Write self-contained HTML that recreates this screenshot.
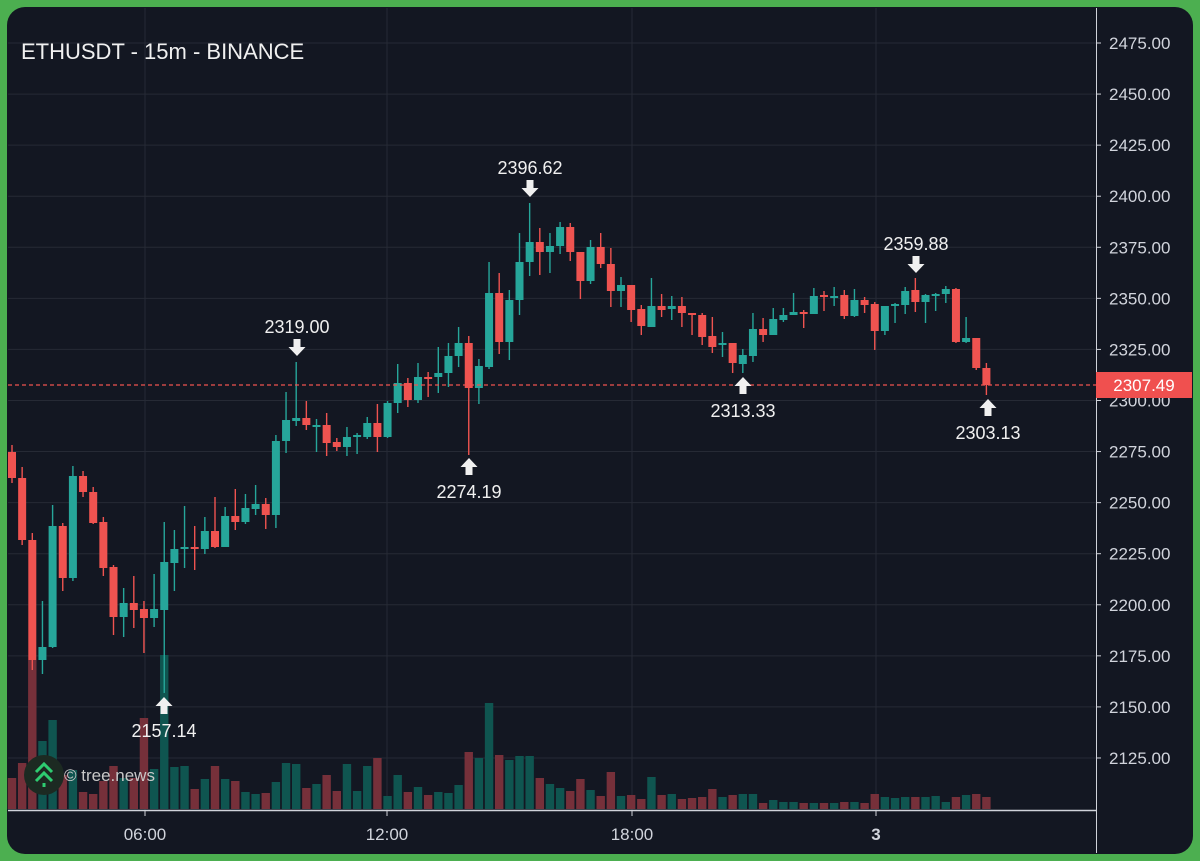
<!DOCTYPE html>
<html><head><meta charset="utf-8"><style>
html,body{margin:0;padding:0;background:#4caf50;}
svg{display:block;font-family:"Liberation Sans",sans-serif;}
</style></head><body>
<svg id="s" width="1200" height="861" viewBox="0 0 1200 861" xmlns="http://www.w3.org/2000/svg">
<rect x="0" y="0" width="1200" height="861" fill="#4caf50"/>
<rect x="7" y="7" width="1186" height="847" rx="18" fill="#131722"/>
<g id="grid" stroke="#262a35" stroke-width="1"></g>
<g id="vol"></g>
<g id="cdl"></g>
<line x1="8" y1="385" x2="1096" y2="385" stroke="#ef5350" stroke-width="1.3" stroke-dasharray="4,3"/>
<line x1="1096.5" y1="8" x2="1096.5" y2="853" stroke="#d0d3da" stroke-width="1"/>
<line x1="8" y1="810.5" x2="1096" y2="810.5" stroke="#d0d3da" stroke-width="1.5"/>
<g id="ylab" fill="#d1d4dc" font-size="17"></g>
<g fill="#d1d4dc" font-size="17" text-anchor="middle">
<text x="145" y="840">06:00</text><text x="387" y="840">12:00</text><text x="632" y="840">18:00</text><text x="876" y="840" font-weight="bold">3</text>
</g>
<g stroke="#d0d3da" stroke-width="1"><line x1="145" y1="811" x2="145" y2="816"/><line x1="387" y1="811" x2="387" y2="816"/><line x1="632" y1="811" x2="632" y2="816"/><line x1="876" y1="811" x2="876" y2="816"/></g>
<rect x="1096" y="372" width="96" height="26" fill="#f0504f"/>
<text x="1144" y="391" fill="#fff" font-size="17" text-anchor="middle">2307.49</text>
<text x="21" y="59" fill="#f0f0f0" font-size="22">ETHUSDT - 15m - BINANCE</text>
<g id="ann" fill="#f0f0f0" font-size="18" text-anchor="middle"></g>
<circle cx="44" cy="775" r="20" fill="#1c2a22"/>
<g stroke="#2ecc71" stroke-width="3" fill="none"><polyline points="36,772 44,764 52,772"/><polyline points="36,781 44,773 52,781"/></g>
<line x1="44" y1="783" x2="44" y2="787" stroke="#2ecc71" stroke-width="3"/>
<text x="64" y="781" fill="#c8c8c8" font-size="17">© tree.news</text>
</svg>
<script>
var NS="http://www.w3.org/2000/svg";
function el(p,t,a){var e=document.createElementNS(NS,t);for(var k in a)e.setAttribute(k,a[k]);p.appendChild(e);return e;}
var g=document.getElementById('grid'),yl=document.getElementById('ylab');
var labs=[2475,2450,2425,2400,2375,2350,2325,2300,2275,2250,2225,2200,2175,2150,2125];
labs.forEach(function(p,i){var y=43+i*51.07;el(g,'line',{x1:8,x2:1096,y1:y,y2:y});var t=el(yl,'text',{x:1109,y:y+6});t.textContent=p.toFixed(2);el(yl,'line',{x1:1096,x2:1101,y1:y,y2:y,stroke:'#d0d3da'});});
[145,387,632,876].forEach(function(x){el(g,'line',{x1:x,x2:x,y1:8,y2:810});});
var C=[[452,478,445,483],[478,540,467,545],[540,660,533,670],[660,647,601,674],[647,526,505,648],[526,578,523,591],[578,476,466,581],[476,492,471,497],[492,523,487,524],[522,568,517,576],[567,617,565,635],[617,603,588,637],[603,610,576,628],[609,618,601,653],[618,609,574,627],[610,562,522,693],[563,549,530,591],[549,547,506,568],[547,549,526,570],[549,531,517,554],[531,547,497,548],[547,516,507,547],[516,522,489,530],[522,508,494,524],[509,504,485,515],[504,515,498,529],[515,441,435,528],[441,420,392,453],[421,418,362,426],[418,425,401,430],[426,425,419,452],[425,443,413,456],[442,447,438,451],[447,437,427,456],[437,435,433,454],[437,423,417,439],[423,437,404,452],[437,403,401,438],[403,383,364,413],[383,400,378,407],[400,377,363,403],[377,379,372,397],[377,373,347,393],[373,356,343,387],[356,343,327,367],[343,388,336,455],[388,366,359,404],[367,293,262,369],[293,342,273,354],[342,300,290,360],[300,262,233,315],[262,242,203,276],[242,252,228,275],[252,246,233,273],[246,227,222,254],[227,252,223,261],[252,281,252,299],[281,247,240,284],[247,264,233,268],[264,291,248,307],[291,285,277,307],[285,310,285,322],[309,326,305,335],[327,306,278,327],[306,310,294,317],[309,306,296,320],[306,313,297,327],[313,315,313,335],[315,337,313,345],[336,347,317,353],[344,343,332,357],[343,363,343,373],[364,355,349,373],[356,329,313,362],[329,335,318,342],[335,319,308,335],[320,315,308,322],[315,312,293,315],[312,314,310,328],[314,296,288,314],[295,297,291,311],[297,296,287,306],[295,316,290,319],[316,300,289,317],[300,305,297,313],[304,331,302,350],[331,306,306,335],[306,304,303,323],[305,291,287,314],[290,302,278,312],[302,295,294,323],[296,294,293,311],[294,289,286,303],[289,342,288,343],[342,338,317,343],[338,368,338,370],[368,385,363,395]];
var V=[778,763,660,741,720,775,770,792,794,781,766,778,778,718,769,655,767,766,789,779,766,779,781,792,794,793,782,763,764,788,784,775,791,764,791,766,758,796,775,792,787,795,792,793,785,752,758,703,755,760,756,756,778,784,788,791,779,790,796,772,796,795,799,777,795,794,799,798,797,789,797,795,794,794,803,800,802,802,803,803,803,803,802,802,803,794,797,798,797,797,797,796,802,797,795,794,797];
var cg=document.getElementById('cdl'),vg=document.getElementById('vol');
C.forEach(function(c,i){var x=12+i*10.15;var up=c[1]<c[0]||(c[1]==c[0]);var col=up?'#26a69a':'#ef5350';
var vc=up?'#0f5550':'#76303a';el(vg,'rect',{x:x-4.2,y:V[i],width:8.4,height:809-V[i],fill:vc});
el(cg,'line',{x1:x,x2:x,y1:c[2],y2:c[3],stroke:col,'stroke-width':1.4});
var t=Math.min(c[0],c[1]),h=Math.max(2,Math.abs(c[0]-c[1]));el(cg,'rect',{x:x-4,y:t,width:8,height:h,fill:col});});
var A=[[530,'2396.62',180,1],[297,'2319.00',339,1],[916,'2359.88',256,1],[469,'2274.19',458,0],[164,'2157.14',697,0],[743,'2313.33',377,0],[988,'2303.13',399,0]];
var ag=document.getElementById('ann');
A.forEach(function(a){var x=a[0],y=a[2];
if(a[3]){var t=el(ag,'text',{x:x,y:y-6});t.textContent=a[1];el(ag,'path',{d:'M'+(x-3.5)+' '+y+'h7v8h5l-8.5 9l-8.5-9h5z'});}
else{el(ag,'path',{d:'M'+x+' '+y+'l8.5 9h-5v8h-7v-8h-5z'});var t=el(ag,'text',{x:x,y:y+40});t.textContent=a[1];}});
</script>
</body></html>
